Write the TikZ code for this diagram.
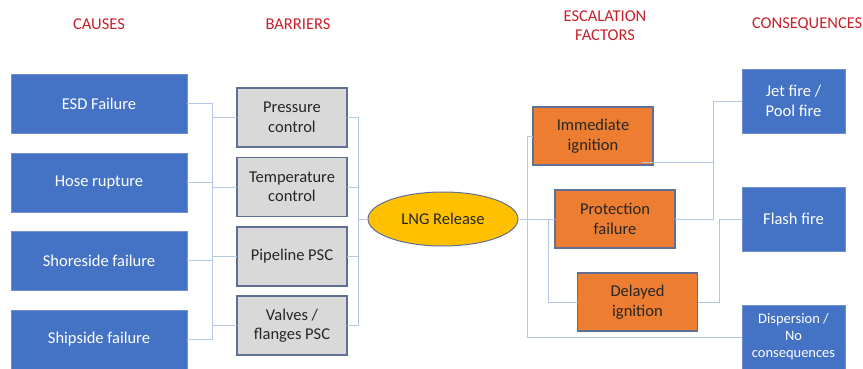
\documentclass[tikz,border=0pt]{standalone}
\usepackage{fontspec}
\setmainfont{Carlito}
\usetikzlibrary{shapes.geometric}
\definecolor{bluebox}{HTML}{4472C4}
\definecolor{blueedge}{HTML}{6F8FD0}
\definecolor{graybox}{HTML}{D9D9D9}
\definecolor{darkedge}{HTML}{5F6F96}
\definecolor{orangebox}{HTML}{ED7D31}
\definecolor{yellowbox}{HTML}{FFC000}
\definecolor{wire}{HTML}{B4C7E7}
\definecolor{titlered}{HTML}{C8202A}
\definecolor{ink}{HTML}{262626}
\begin{document}
\begin{tikzpicture}[x=1pt,y=-1pt,
  every node/.style={inner sep=0pt,outer sep=0pt,align=center,font=\fontsize{16.5}{19.5}\selectfont},
  causebox/.style={fill=bluebox,draw=blueedge,line width=0.8pt,text=white,minimum width=176pt,minimum height=59pt},
  barrierbox/.style={fill=graybox,draw=darkedge,line width=1.2pt,text=ink,minimum width=110pt,minimum height=59pt},
  escbox/.style={fill=orangebox,draw=darkedge,line width=1.2pt,text=ink,minimum width=120pt,minimum height=58pt},
  consbox/.style={fill=bluebox,draw=blueedge,line width=0.8pt,text=white,minimum width=103pt,minimum height=64pt},
  heading/.style={text=titlered},
  wireline/.style={draw=wire,line width=0.9pt}]
\useasboundingbox (0,0) rectangle (863,369);

% headings
\node[heading] (hc) at (99,24) {CAUSES};
\node[heading] (hb) at (298,24) {BARRIERS};
\node[heading,font=\fontsize{16.5}{18.7}\selectfont] (he) at (605,25.5) {ESCALATION\\FACTORS};
\node[heading,anchor=west] (hq) at (752,24) {CONSEQUENCES};

% wire bus coordinates
\coordinate (lb) at (212,0);
\coordinate (rb) at (358,0);
\coordinate (eb) at (527,0);
\coordinate (db) at (548,0);
\coordinate (jb) at (713,0);
\coordinate (fb) at (719,0);

% causes
\node[causebox] (esd) at (99,103.5) {ESD Failure};
\node[causebox] (hose) at (99,182.5) {Hose rupture};
\node[causebox] (shore) at (99,260.5) {Shoreside failure};
\node[causebox] (ship) at (99,339.5) {Shipside failure};

% barriers
\node[barrierbox] (pres) at (292,117.5) {Pressure\\control};
\node[barrierbox] (temp) at (292,187) {Temperature\\control};
\node[barrierbox] (pipe) at (292,256.5) {Pipeline PSC};
\node[barrierbox] (valv) at (292,325.5) {Valves /\\flanges PSC};

% top event
\node[ellipse,fill=yellowbox,draw=darkedge,line width=1pt,text=ink,minimum width=150pt,minimum height=54pt] (lng) at (443,219) {LNG Release};

% escalation factors
\node[escbox] (imm) at (593,136) {Immediate\\ignition};
\node[escbox] (prot) at (615,219) {Protection\\failure};
\node[escbox] (del) at (637.5,302) {Delayed\\ignition};

% consequences
\node[consbox] (jet) at (793.5,101) {Jet fire /\\Pool fire};
\node[consbox] (flash) at (793.5,219) {Flash fire};
\node[consbox,font=\fontsize{14.5}{17}\selectfont] (disp) at (793.5,337) {Dispersion /\\No\\consequences};

% wires: causes to barriers
\draw[wireline] (esd.east) -- (esd.east -| lb);
\draw[wireline] (hose.east) -- (hose.east -| lb);
\draw[wireline] (shore.east) -- (shore.east -| lb);
\draw[wireline] (ship.east) -- (ship.east -| lb);
\draw[wireline] (esd.east -| lb) -- (ship.east -| lb);
\draw[wireline] (pres.west -| lb) -- (pres.west);
\draw[wireline] (temp.west -| lb) -- (temp.west);
\draw[wireline] (pipe.west -| lb) -- (pipe.west);
\draw[wireline] (valv.west -| lb) -- (valv.west);

% wires: barriers to top event
\draw[wireline] (pres.east) -- (pres.east -| rb);
\draw[wireline] (temp.east) -- (temp.east -| rb);
\draw[wireline] (pipe.east) -- (pipe.east -| rb);
\draw[wireline] (valv.east) -- (valv.east -| rb);
\draw[wireline] (pres.east -| rb) -- (valv.east -| rb);
\draw[wireline] (lng.west -| rb) -- (lng.west);

% wires: top event to escalation
\draw[wireline] (lng.east) -- (prot.west);
\draw[wireline] (imm.west -| eb) -- (imm.west);
\draw[wireline] (imm.west -| eb) -- (disp.west -| eb) -- (disp.west);
\draw[wireline] (prot.west -| db) -- (del.west -| db) -- (del.west);

% wires: escalation to consequences
\draw[wireline] ([xshift=-11pt,yshift=3pt]imm.south east) -- ([yshift=3pt]imm.south east -| jb);
\draw[wireline] (prot.east) -- (prot.east -| jb) |- (jet.west);
\draw[wireline] (del.east) -- (del.east -| fb) |- (flash.west);
\end{tikzpicture}
\end{document}
